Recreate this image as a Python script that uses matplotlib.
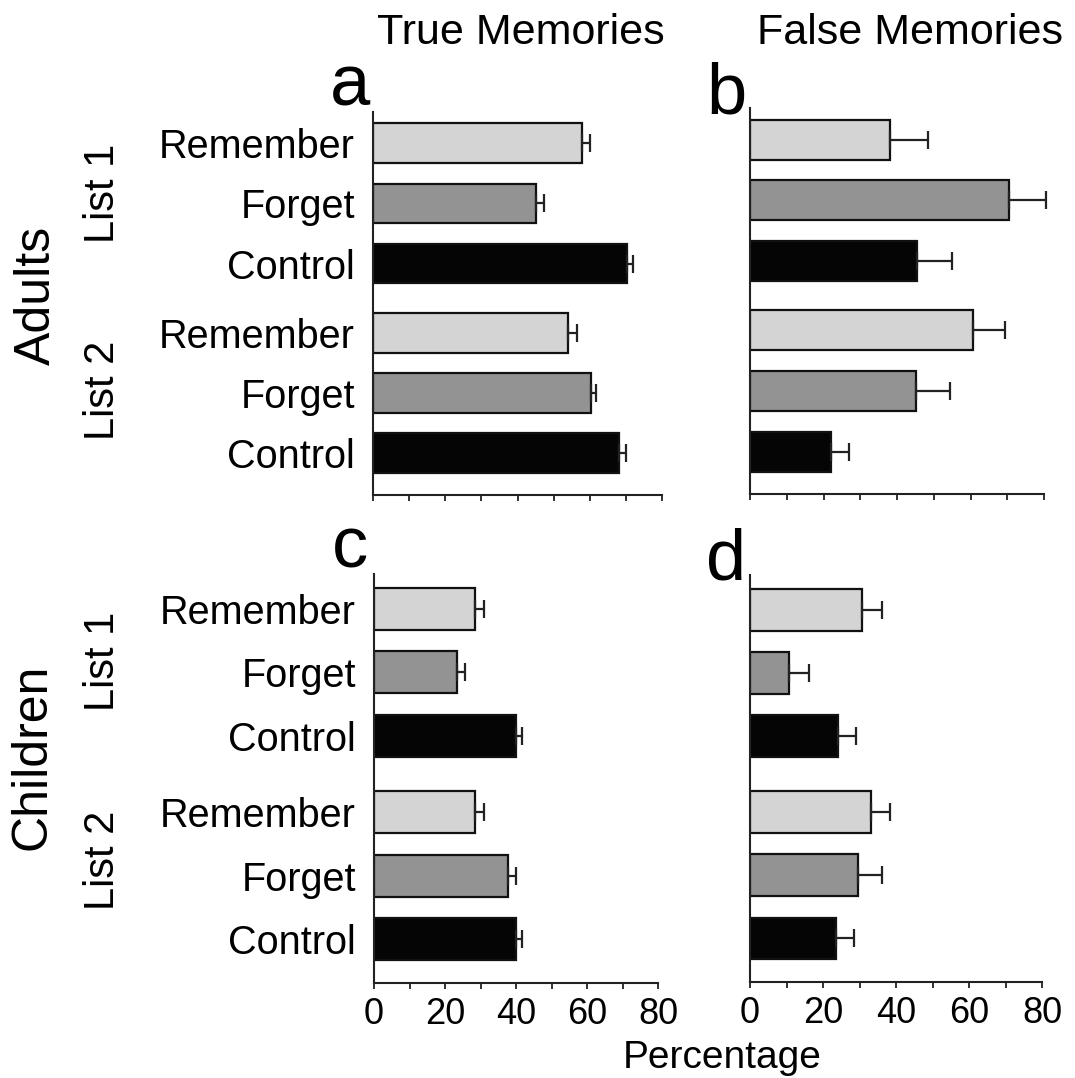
"""
Directed forgetting: true and false memories for adults and children.
Horizontal bars with one-sided error bars, 2x2 panels.
"""

import numpy as np
import matplotlib
matplotlib.use('Agg')
from matplotlib import pyplot as plt
from matplotlib.ticker import MultipleLocator

plt.rcParams['font.family'] = ['Liberation Sans', 'DejaVu Sans']

conditions = ['Remember', 'Forget', 'Control', 'Remember', 'Forget', 'Control']
bar_colors = ['#d4d4d4', '#939393', '#050505', '#d4d4d4', '#939393', '#050505']
x_ticks = [0, 20, 40, 60, 80]

true_adults = [57.8, 45.0, 70.4, 54.0, 60.3, 68.2]
true_adults_err = [2.3, 2.3, 1.6, 2.5, 1.5, 1.8]
false_adults = [38.1, 70.6, 45.4, 60.6, 45.2, 22.0]
false_adults_err = [10.4, 10.0, 9.7, 8.8, 9.3, 5.0]
true_children = [28.5, 23.3, 40.0, 28.5, 37.8, 40.0]
true_children_err = [2.5, 2.3, 1.8, 2.6, 2.2, 1.8]
false_children = [30.8, 10.7, 24.0, 33.1, 29.7, 23.6]
false_children_err = [5.3, 5.6, 5.0, 5.3, 6.4, 5.0]

W, H = 1075, 1078


def px_axes(fig, left, top, right, bottom):
    return fig.add_axes([left/W, 1 - bottom/H, (right-left)/W, (bottom-top)/H])


def ftext(fig, x, y, s, **kw):
    fig.text(x/W, 1 - y/H, s, **kw)


def draw_panel(ax, vals, errs, pos, ylim, show_labels, show_xticklabels):
    ax.barh(pos, vals, height=0.66, color=bar_colors,
            edgecolor='#111111', linewidth=1.6, zorder=2)
    ax.errorbar(vals, pos, xerr=[np.zeros(len(errs)), errs], fmt='none',
                ecolor='#222222', elinewidth=1.6, capsize=6.5, capthick=1.6,
                zorder=3, clip_on=False)
    ax.set_xlim(0, 80)
    ax.set_ylim(*ylim)
    ax.xaxis.set_major_locator(MultipleLocator(20))
    ax.xaxis.set_minor_locator(MultipleLocator(10))
    ax.set_xticks(x_ticks)
    ax.tick_params(axis='x', which='both', direction='out', length=4,
                   width=1.3, color='#222222', pad=6, labelsize=26)
    if not show_xticklabels:
        ax.set_xticklabels([])
    ax.set_yticks(pos)
    if show_labels:
        ax.set_yticklabels(conditions)
    else:
        ax.set_yticklabels([])
    ax.tick_params(axis='y', length=0, pad=13, labelsize=28.5)
    for side in ['top', 'right']:
        ax.spines[side].set_visible(False)
    for side in ['left', 'bottom']:
        ax.spines[side].set_linewidth(1.5)
        ax.spines[side].set_color('#222222')


fig = plt.figure(figsize=(W/100, H/100), dpi=100)

pos_top = [0, 1, 2, 3.15, 4.15, 5.15]
pos_bot = [0, 1, 2, 3.2, 4.2, 5.2]

ax_a = px_axes(fig, 373, 112, 662, 495)
ax_b = px_axes(fig, 750, 108, 1044, 494)
ax_c = px_axes(fig, 374, 574, 658, 983)
ax_d = px_axes(fig, 750, 575, 1042, 982)

draw_panel(ax_a, true_adults, true_adults_err, pos_top, (5.85, -0.52), True, False)
draw_panel(ax_b, false_adults, false_adults_err, pos_top, (5.85, -0.52), False, False)
draw_panel(ax_c, true_children, true_children_err, pos_bot, (5.89, -0.55), True, True)
draw_panel(ax_d, false_children, false_children_err, pos_bot, (5.89, -0.55), False, True)

# column titles
ftext(fig, 521, 33, 'True Memories', ha='center', va='center', fontsize=31)
ftext(fig, 910, 33, 'False Memories', ha='center', va='center', fontsize=31)

# panel letters
ftext(fig, 350, 106, 'a', ha='center', va='baseline', fontsize=52)
ftext(fig, 726, 114, 'b', ha='center', va='baseline', fontsize=52)
ftext(fig, 350, 567, 'c', ha='center', va='baseline', fontsize=52)
ftext(fig, 726, 579, 'd', ha='center', va='baseline', fontsize=52)

# row labels
ftext(fig, 37, 295, 'Adults', ha='center', va='center', rotation=90, fontsize=36)
ftext(fig, 103, 193, 'List 1', ha='center', va='center', rotation=90, fontsize=30)
ftext(fig, 103, 390, 'List 2', ha='center', va='center', rotation=90, fontsize=30)
ftext(fig, 33, 757, 'Children', ha='center', va='center', rotation=90, fontsize=36)
ftext(fig, 103, 661, 'List 1', ha='center', va='center', rotation=90, fontsize=30)
ftext(fig, 103, 860, 'List 2', ha='center', va='center', rotation=90, fontsize=30)

ftext(fig, 722, 1058, 'Percentage', ha='center', va='center', fontsize=28)

fig.savefig('out.png', dpi=100)
